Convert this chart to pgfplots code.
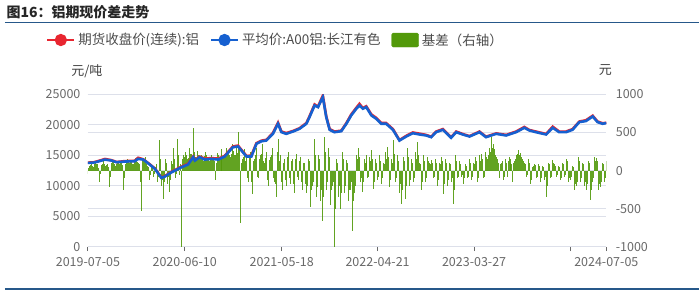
\documentclass[border=0pt]{standalone}
\usepackage{fontspec}
\setmainfont{Noto Sans CJK SC}
\usepackage{pgfplots}
\usepackage{pgfplotstable}
\pgfplotsset{compat=1.18}
\definecolor{fut}{RGB}{232,38,48}
\definecolor{spot}{RGB}{22,96,208}
\definecolor{basis}{RGB}{82,153,10}
\definecolor{gridc}{RGB}{221,224,234}
\definecolor{tickc}{RGB}{105,105,105}
\definecolor{navy}{RGB}{38,88,138}

\pgfplotstableread{
d v
0 13750
20 13800
36 13980
60 14300
83 14140
101 13870
130 13980
165 14030
177 14420
195 14300
212 13700
236 12780
259 11300
271 11510
295 12220
330 13040
353 13490
371 14690
377 14140
394 14690
412 14300
435 14420
459 14300
482 14800
511 16330
529 16450
541 15790
559 14800
576 14800
594 16890
611 17300
629 17430
652 18530
670 20180
682 18800
699 18530
723 18910
746 19360
770 20180
781 21270
799 23190
811 22910
828 24560
840 21270
852 19190
869 18800
893 18960
911 20180
928 21550
946 22650
957 23190
969 22650
981 22910
999 21550
1016 21000
1034 20180
1051 20180
1075 19190
1098 17430
1122 18090
1145 18630
1169 18420
1192 18260
1210 17980
1227 18800
1251 19190
1280 17880
1298 18800
1321 18420
1345 18090
1380 18800
1403 17980
1439 18530
1474 18260
1509 18800
1538 19520
1556 19080
1579 18800
1615 18420
1638 19520
1661 18800
1685 18800
1708 19190
1732 20460
1755 20620
1779 21380
1796 20460
1814 20180
1827 20300
}\spot

\pgfplotstableread{
d v
0 13800
20 13850
36 14050
60 14400
83 14200
101 13900
130 14050
165 14100
177 14600
195 14350
212 13750
236 12850
259 11350
271 11600
295 12300
330 13150
353 13600
371 14800
377 14250
394 14800
412 14450
435 14550
459 14450
482 14900
511 16450
529 16600
541 15900
559 14900
576 14950
594 17000
611 17400
629 17550
652 18650
670 20350
682 18900
699 18650
723 19000
746 19450
770 20300
781 21400
799 23350
811 23000
828 24800
840 21400
852 19300
869 18900
893 19050
911 20300
928 21700
946 22800
957 23450
969 22750
981 23050
999 21700
1016 21150
1034 20300
1051 20300
1075 19300
1098 17500
1122 18200
1145 18750
1169 18550
1192 18350
1210 18050
1227 18900
1251 19300
1280 17950
1298 18900
1321 18500
1345 18150
1380 18900
1403 18050
1439 18600
1474 18350
1509 18900
1538 19650
1556 19150
1579 18900
1615 18500
1638 19700
1661 18900
1685 18900
1708 19300
1732 20550
1755 20750
1779 21500
1796 20550
1814 20250
1827 20350
}\fut

% basis, every 7 days from day 0
\pgfplotstableread{
b
-40
60
90
50
110
80
-150
70
120
60
90
-220
100
140
60
110
80
130
-260
90
150
100
120
80
160
110
90
-525
130
180
60
-120
90
-80
50
-150
400
-200
-370
150
-180
-283
120
300
-100
408
-60
-1000
200
250
150
300
220
554
180
260
150
200
120
250
180
120
200
150
-120
230
180
280
150
220
300
250
180
350
200
300
510
-690
150
280
200
-150
250
-305
150
300
-100
200
350
100
250
-200
180
300
-150
-350
420
200
-250
150
-200
250
-180
150
-300
220
-120
180
-250
100
-300
150
-480
-200
420
-350
200
-400
-660
443
-250
300
-450
-200
-1000
150
-350
-500
250
-300
135
-400
-250
-790
-300
200
290
-150
-283
150
200
-100
180
267
-240
150
-120
200
-180
100
250
311
-217
150
400
-150
200
-300
-437
180
-370
290
-200
150
-150
250
377
100
-260
200
-150
180
100
135
-100
150
-200
100
180
-305
150
-200
100
-150
-437
200
-100
120
-80
-172
80
-100
150
-120
100
180
-150
200
223
-100
250
150
300
443
350
200
150
-100
100
-120
150
-80
180
100
-150
120
200
267
230
150
100
-80
150
-172
50
92
-100
80
-150
60
-120
-350
100
-100
135
80
-80
60
-120
100
-80
150
-150
-120
60
-260
-200
180
-150
100
-200
-260
120
-393
-150
180
165
-250
-217
100
-150
120
}\basisA

% basis, every 7 days from day 3.5
\pgfplotstableread{
b
30
70
60
80
90
40
-50
90
80
70
50
-80
120
90
80
100
110
70
-100
120
110
130
90
140
120
100
-150
140
110
90
50
-60
70
-40
80
-90
150
-120
-150
100
-90
-120
90
150
-50
200
80
150
180
200
160
220
180
250
170
200
180
150
190
200
170
150
180
130
100
200
150
220
180
200
240
200
220
260
200
230
300
100
180
120
-100
160
-150
120
200
-80
150
220
130
160
-120
140
200
-100
-180
250
120
-150
100
-120
180
-100
120
-180
150
-80
120
-150
100
-180
-200
120
-250
-150
200
-220
150
-250
-350
250
-150
180
-250
-150
-500
100
-200
-300
150
-200
100
-250
-150
-400
-200
150
180
-100
-150
100
120
-80
120
150
-150
100
-80
120
-100
80
150
180
-120
100
220
-100
120
-180
-250
120
-200
180
-120
100
-100
150
200
80
-150
120
-100
120
80
100
-80
100
-120
80
120
-180
100
-120
80
-100
-250
120
-80
80
-60
-100
60
-80
100
-80
80
120
-100
120
150
-80
180
200
250
300
280
180
100
80
120
-80
100
120
150
80
100
150
220
200
180
120
80
-60
100
-120
60
70
-80
60
-100
50
-80
-200
80
-80
100
60
-60
50
-100
80
-60
120
-100
-80
50
-180
-150
120
-100
80
-150
-180
100
-250
-100
130
120
-180
-150
80
-100
}\basisB

\pgfplotsset{
  base/.style={
    scale only axis, width=519pt, height=152.5pt,
    at={(88pt,45pt)}, anchor=south west,
    xmin=0, xmax=1827,
    scaled y ticks=false,
    tick label style={font=\fontsize{12.5}{14}\selectfont, text=tickc},
    grid style={gridc, line width=0.8pt},
  }
}

\begin{document}
\begin{tikzpicture}
\fill[white] (0,0) rectangle (700pt,292pt);
\node[anchor=west, font=\bfseries\fontsize{14}{16}\selectfont, text=black!85] at (3pt,280pt) {图16：铝期现价差走势};
\draw[navy, line width=1.6pt] (5pt,269.5pt) -- (700pt,269.5pt);
\draw[navy, line width=1.6pt] (5pt,2.5pt) -- (700pt,2.5pt);
\node[font=\fontsize{13}{15}\selectfont, text=black!75] at (87pt,221pt) {元/吨};
\node[font=\fontsize{13}{15}\selectfont, text=black!75] at (606pt,222pt) {元};

% left axis: grid, left labels, x axis
\begin{axis}[base,
  ymin=0, ymax=25000,
  ytick={0,5000,10000,15000,20000,25000},
  yticklabels={0,5000,10000,15000,20000,25000},
  ymajorgrids,
  axis x line*=bottom, axis y line*=left,
  y axis line style={draw=none}, ytick style={draw=none},
  xtick={0,341,683,1021,1361,1701,1827},
  xticklabels={2019-07-05,2020-06-10,2021-05-18,2022-04-21,2023-03-27,,2024-07-05},
  xtick align=outside,
  x axis line style={tickc, line width=0.9pt, -},
  xtick style={tickc, line width=0.9pt},
  major tick length=4.5pt,
  yticklabel style={xshift=-4pt},
  xticklabel style={yshift=-3pt},
]
\end{axis}

% right axis: grid, labels, basis bars
\begin{axis}[base,
  ymin=-1000, ymax=1000,
  ytick={-1000,-500,0,500,1000},
  yticklabels={-1000,-500,0,500,1000},
  ymajorgrids,
  axis y line*=right, axis x line=none,
  y axis line style={draw=none}, ytick style={draw=none},
  yticklabel style={xshift=6pt},
]
\addplot[ycomb, draw=basis, draw opacity=0.9, line width=0.95pt, no markers] table[x expr=7*\coordindex, y=b] {\basisA};
\addplot[ycomb, draw=basis, draw opacity=0.9, line width=0.95pt, no markers] table[x expr=3.5+7*\coordindex, y=b] {\basisB};
\end{axis}

% lines
\begin{axis}[base,
  ymin=0, ymax=25000, hide axis,
  legend style={at={(0.363,1.357)}, anchor=center, draw=none, fill=none,
    font=\fontsize{13.5}{15}\selectfont, text=black!70,
    legend columns=3, inner sep=0pt,
    nodes={inner sep=3pt},
    /tikz/every even column/.append style={column sep=8pt}},
]
\addplot[fut, line width=2.6pt, no markers,
  legend image code/.code={\draw[fut, line width=2pt] (0pt,0pt) -- (27pt,0pt); \fill[fut] (13.5pt,0pt) circle (4.8pt);}]
  table[x=d, y=v] {\fut};
\addlegendentry{期货收盘价(连续):铝}
\addplot[spot, line width=2.6pt, no markers,
  legend image code/.code={\draw[spot, line width=2pt] (0pt,0pt) -- (27pt,0pt); \fill[spot] (13.5pt,0pt) circle (4.8pt);}]
  table[x=d, y=v] {\spot};
\addlegendentry{平均价:A00铝:长江有色}
\addlegendimage{legend image code/.code={\fill[basis, rounded corners=1.5pt] (0pt,-7pt) rectangle (27pt,7pt);}}
\addlegendentry{基差（右轴）}
\end{axis}
\end{tikzpicture}
\end{document}
